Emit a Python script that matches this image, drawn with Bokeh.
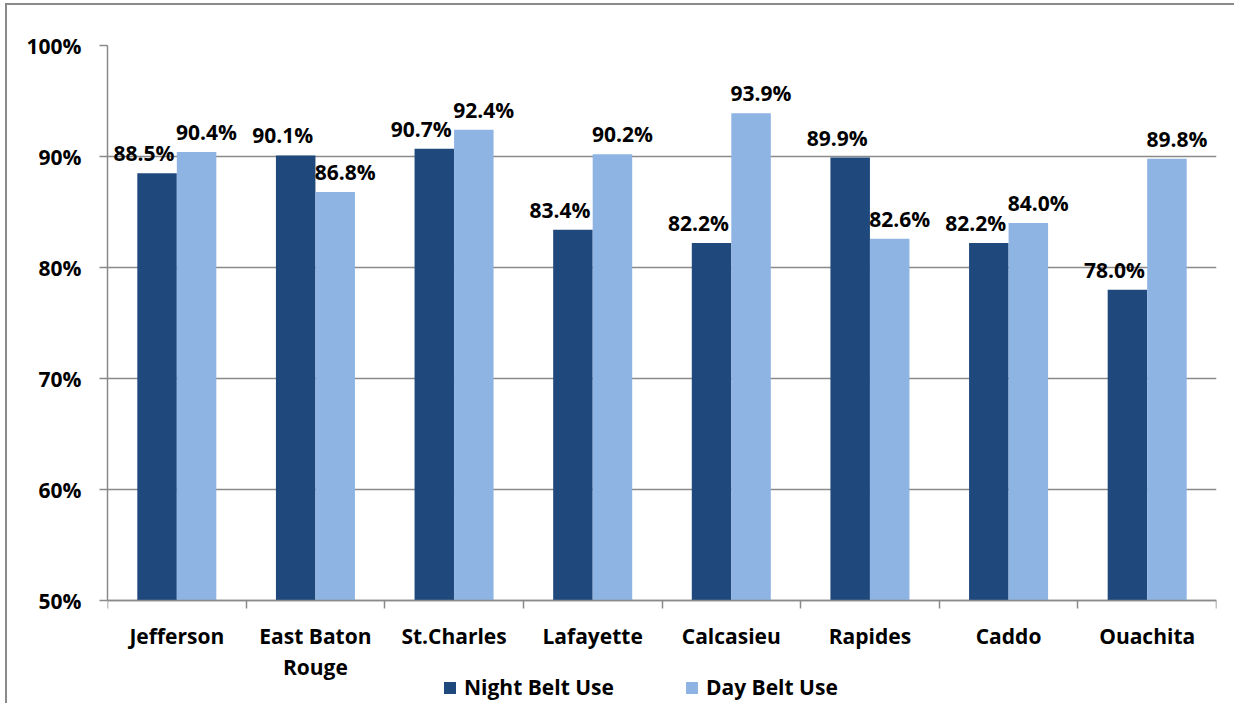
from bokeh.plotting import figure
from bokeh.models import (Range1d, FixedTicker, PrintfTickFormatter, Legend, LegendItem,
                          ColumnDataSource)
from bokeh.core.properties import value
from bokeh.embed import file_html
from bokeh.resources import INLINE
import numpy as np

categories = ["Jefferson", "East Baton\nRouge", "St.Charles", "Lafayette", "Calcasieu",
              "Rapides", "Caddo", "Ouachita"]
night = [88.5, 90.1, 90.7, 83.4, 82.2, 89.9, 82.2, 78.0]
day = [90.4, 86.8, 92.4, 90.2, 93.9, 82.6, 84.0, 89.8]
y_ticks = [50, 60, 70, 80, 90, 100]
series_names = ["Night Belt Use", "Day Belt Use"]

NIGHT_C = "#1F497D"
DAY_C = "#8EB4E3"
GRID_C = "#8A8A8A"
FONT = "Open Sans"

W, H = 1229, 700
TOP, LEFT, RIGHT = 40, 100, 20
PLOT_PX = 555  # pixel height of the 50%..100% value band
base, top_val = y_ticks[0], y_ticks[-1]
# frame extends below the value band to hold category labels and legend
y_start = top_val - (top_val - base) * (H - TOP) / PLOT_PX

p = figure(width=W, height=H, output_backend="svg", toolbar_location=None,
           x_range=Range1d(0, len(categories)), y_range=Range1d(y_start, top_val),
           min_border_left=LEFT, min_border_right=RIGHT, min_border_top=TOP,
           min_border_bottom=0)
p.outline_line_color = None
p.background_fill_color = "white"
p.border_fill_color = "white"
p.styles = {"border-top": f"2px solid {GRID_C}", "border-left": f"2px solid {GRID_C}",
            "margin-left": "5px", "margin-top": "3px"}

idx = np.arange(len(categories))
bw = 0.285
src = ColumnDataSource(dict(
    xn=idx + 0.5 - bw / 2, xd=idx + 0.5 + bw / 2,
    night=night, day=day,
    tn=[f"{v:.1f}%" for v in night], td=[f"{v:.1f}%" for v in day]))

rn = p.vbar(x="xn", top="night", bottom=base, width=bw, source=src,
            fill_color=NIGHT_C, line_color=None)
rd = p.vbar(x="xd", top="day", bottom=base, width=bw, source=src,
            fill_color=DAY_C, line_color=None)

lbl = dict(text_font=value(FONT), text_font_style="bold", text_font_size="21px",
           text_color="black", text_align="center", text_baseline="bottom")
p.text(x="xn", y="night", text="tn", source=src, x_offset=-13, y_offset=-6, **lbl)
p.text(x="xd", y="day", text="td", source=src, x_offset=10, y_offset=-6, **lbl)

# grid
p.xgrid.visible = False
p.ygrid.ticker = FixedTicker(ticks=y_ticks)
p.ygrid.grid_line_color = GRID_C
p.ygrid.grid_line_width = 1.5

# y axis
ya = p.yaxis[0]
ya.ticker = FixedTicker(ticks=y_ticks)
ya.bounds = (base, top_val)
ya.formatter = PrintfTickFormatter(format="%d%%")
ya.axis_line_color = GRID_C
ya.axis_line_width = 1.5
ya.major_tick_line_color = GRID_C
ya.major_tick_line_width = 1.5
ya.major_tick_in = 0
ya.major_tick_out = 8
ya.minor_tick_line_color = None
ya.major_label_standoff = 18
ya.major_label_text_font = FONT
ya.major_label_text_font_style = "bold"
ya.major_label_text_font_size = "21px"
ya.major_label_text_color = "black"

# x axis (drawn at the 50% baseline)
xa = p.xaxis[0]
xa.fixed_location = base
xa.ticker = FixedTicker(ticks=list(idx + 0.5), minor_ticks=list(range(len(categories) + 1)))
xa.major_label_overrides = {float(i + 0.5): c for i, c in enumerate(categories)}
xa.axis_line_color = GRID_C
xa.axis_line_width = 1.5
xa.major_tick_line_color = None
xa.minor_tick_line_color = GRID_C
xa.minor_tick_line_width = 1.5
xa.minor_tick_in = 0
xa.minor_tick_out = 8
xa.major_tick_out = 8
xa.major_label_standoff = 13
xa.major_label_text_font = FONT
xa.major_label_text_font_style = "bold"
xa.major_label_text_font_size = "21px"
xa.major_label_text_color = "black"
xa.major_label_text_line_height = 1.12

# legend
legend = Legend(items=[LegendItem(label=series_names[0], renderers=[rn]),
                       LegendItem(label=series_names[1], renderers=[rd])],
                orientation="horizontal", location=(335, 4),
                glyph_width=15, glyph_height=15, label_standoff=7, spacing=70,
                padding=0, margin=0, border_line_color=None,
                background_fill_alpha=0,
                label_text_font=FONT, label_text_font_style="bold",
                label_text_font_size="21px", label_text_color="black")
p.add_layout(legend)

open("out.html", "w").write(file_html(p, INLINE))
